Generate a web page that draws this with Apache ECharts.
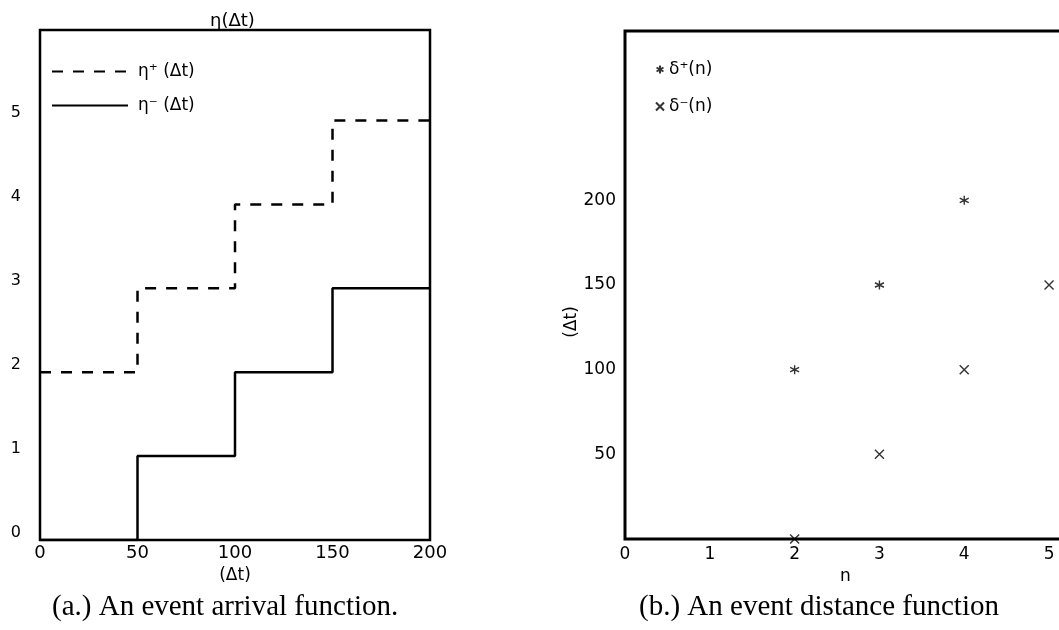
<!DOCTYPE html>
<html><head><meta charset="utf-8">
<script src="https://cdn.jsdelivr.net/npm/echarts@6/dist/echarts.min.js"></script>
<style>html,body{margin:0;padding:0;background:#fff}#c{width:1059px;height:630px}</style>
</head><body><div id="c"></div>
<script>
// Left chart (a): event arrival function
const stepX = [0, 50, 100, 150, 200];
const etaPlus = [2, 3, 4, 5, 5];
const etaMinus = [0, 1, 2, 3, 3];
const leftYMaxLabel = 5;
// Right chart (b): event distance function
const nPlus = [2, 3, 4];
const deltaPlus = [100, 150, 200];
const nMinus = [2, 3, 4, 5];
const deltaMinus = [0, 50, 100, 150];
const rightYLabels = [50, 100, 150, 200];

const FONT = 'DejaVu Sans';
const SERIF = 'Liberation Serif';
const ASTER = 'path://M5,0L5,10M0.67,2.5L9.33,7.5M0.67,7.5L9.33,2.5';
const CROSS = 'path://M0,0L10,10M0,10L10,0';
const CLEAR = 'rgba(0,0,0,0)';

const chart = echarts.init(document.getElementById('c'), null, {renderer: 'canvas'});
chart.setOption({
  animation: false,
  backgroundColor: '#fff',
  title: [
    {text: 'η(Δt)', left: 205, top: 7, textStyle: {fontFamily: FONT, fontSize: 18, fontWeight: 'normal', color: '#000'}},
    {text: '(a.) An event arrival function.', left: 47, top: 588, textStyle: {fontFamily: SERIF, fontSize: 29, fontWeight: 'normal', color: '#000'}},
    {text: '(b.) An event distance function', left: 634, top: 588, textStyle: {fontFamily: SERIF, fontSize: 29, fontWeight: 'normal', color: '#000'}}
  ],
  legend: [
    {orient: 'vertical', left: 46, top: 58, itemWidth: 76, itemHeight: 14, itemGap: 17,
     data: ['η⁺ (Δt)', 'η⁻ (Δt)'],
     itemStyle: {color: CLEAR, borderWidth: 0},
     textStyle: {fontFamily: FONT, fontSize: 17, color: '#000', padding: [0, 0, 0, 5]}},
    {orient: 'vertical', left: 650, top: 56, itemWidth: 8, itemHeight: 8, itemGap: 20,
     data: ['δ⁺(n)', 'δ⁻(n)'],
     textStyle: {fontFamily: FONT, fontSize: 17, color: '#000'}}
  ],
  grid: [
    {left: 40, top: 30, width: 390, height: 510, show: true, borderColor: '#000', borderWidth: 2.5,
     containLabel: false, outerBoundsMode: 'none'},
    {left: 625, top: 31, width: 441, height: 508, show: true, borderColor: '#000', borderWidth: 3,
     containLabel: false, outerBoundsMode: 'none'}
  ],
  xAxis: [
    {type: 'value', gridIndex: 0, min: 0, max: 200, interval: 50,
     name: '(Δt)', nameLocation: 'middle', nameGap: 15,
     nameTextStyle: {fontFamily: FONT, fontSize: 17, color: '#000'},
     axisLine: {show: false}, axisTick: {show: false}, splitLine: {show: false},
     axisLabel: {margin: 4, fontFamily: FONT, fontSize: 18, color: '#000'}},
    {type: 'value', gridIndex: 1, min: 0, max: 5.2, interval: 1,
     name: 'n', nameLocation: 'middle', nameGap: 13,
     nameTextStyle: {fontFamily: FONT, fontSize: 17, color: '#000'},
     axisLine: {show: false}, axisTick: {show: false}, splitLine: {show: false},
     axisLabel: {margin: 7, fontFamily: FONT, fontSize: 17, color: '#000',
       formatter: v => Number.isInteger(v) ? String(v) : ''}}
  ],
  yAxis: [
    {type: 'value', gridIndex: 0, min: 0, max: 6.08, interval: 1,
     axisLine: {show: false}, axisTick: {show: false}, splitLine: {show: false},
     axisLabel: {margin: 19, fontFamily: FONT, fontSize: 16, color: '#000',
       verticalAlign: 'bottom', lineHeight: 15,
       formatter: v => (Number.isInteger(v) && v <= leftYMaxLabel) ? String(v) : ''}},
    {type: 'value', gridIndex: 1, min: 0, max: 300, interval: 50,
     name: '(Δt)', nameLocation: 'middle', nameGap: 40,
     nameTextStyle: {fontFamily: FONT, fontSize: 17, color: '#000', padding: [0, 74, 0, 0]},
     axisLine: {show: false}, axisTick: {show: false}, splitLine: {show: false},
     axisLabel: {margin: 9, fontFamily: FONT, fontSize: 17, color: '#000',
       formatter: v => rightYLabels.includes(v) ? String(v) : ''}}
  ],
  series: [
    {name: 'η⁺ (Δt)', type: 'line', xAxisIndex: 0, yAxisIndex: 0, step: 'end', symbol: 'none',
     data: stepX.map((x, i) => [x, etaPlus[i]]),
     lineStyle: {color: '#000', width: 2.5, type: [11, 10]}, itemStyle: {color: CLEAR}},
    {name: 'η⁻ (Δt)', type: 'line', xAxisIndex: 0, yAxisIndex: 0, step: 'end', symbol: 'none',
     data: stepX.map((x, i) => [x, etaMinus[i]]),
     lineStyle: {color: '#000', width: 2.5, type: 'solid'}, itemStyle: {color: CLEAR}},
    {name: 'δ⁺(n)', type: 'scatter', xAxisIndex: 1, yAxisIndex: 1, symbol: ASTER, symbolSize: 9,
     data: nPlus.map((n, i) => [n, deltaPlus[i]]),
     itemStyle: {color: CLEAR, borderColor: '#000', borderWidth: 1.4}},
    {name: 'δ⁻(n)', type: 'scatter', xAxisIndex: 1, yAxisIndex: 1, symbol: CROSS, symbolSize: 9,
     data: nMinus.map((n, i) => [n, deltaMinus[i]]),
     itemStyle: {color: CLEAR, borderColor: '#000', borderWidth: 1.4}}
  ]
});
</script></body></html>
